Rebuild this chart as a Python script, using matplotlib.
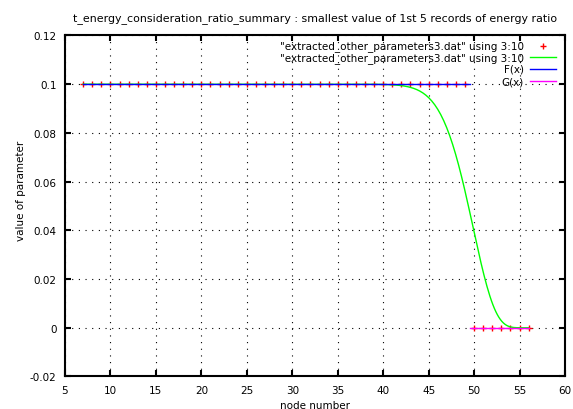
import math
import numpy as np
import matplotlib
matplotlib.use("Agg")
import matplotlib.pyplot as plt

# data: column 3 (node) vs column 10 (ratio)
node = [7, 8, 9, 10, 11, 12, 13, 14, 15, 16, 17, 18, 19, 20, 21, 22, 23, 24, 25,
        26, 27, 28, 29, 30, 31, 32, 33, 34, 35, 36, 37, 38, 39, 40, 41, 42, 43,
        44, 45, 46, 47, 48, 49, 50, 51, 52, 53, 54, 55, 56]
ratio = [0.1, 0.1, 0.1, 0.1, 0.1, 0.1, 0.1, 0.1, 0.1, 0.1, 0.1, 0.1, 0.1, 0.1,
         0.1, 0.1, 0.1, 0.1, 0.1, 0.1, 0.1, 0.1, 0.1, 0.1, 0.1, 0.1, 0.1, 0.1,
         0.1, 0.1, 0.1, 0.1, 0.1, 0.1, 0.1, 0.1, 0.1, 0.1, 0.1, 0.1, 0.1, 0.1,
         0.1, 0, 0, 0, 0, 0, 0, 0]

# piecewise functions F(x) and G(x)
f_x = [7, 49.5]
f_y = [0.1, 0.1]
g_x = [49.5, 56]
g_y = [0, 0]

labels = ['"extracted_other_parameters3.dat" using 3:10',
          '"extracted_other_parameters3.dat" using 3:10',
          "F(x)", "G(x)"]


# gnuplot "smooth bezier" of the data points
def bezier(xs, ys, num=300):
    n = len(xs) - 1
    t = np.linspace(0, 1, num)
    bx = np.zeros(num)
    by = np.zeros(num)
    for i in range(n + 1):
        b = math.comb(n, i) * t ** i * (1 - t) ** (n - i)
        bx += b * xs[i]
        by += b * ys[i]
    return bx, by


bx, by = bezier(node, ratio)

plt.rcParams["font.family"] = "DejaVu Sans"
plt.rcParams["font.size"] = 7.5

fig = plt.figure(figsize=(5.73, 4.10), dpi=100)
ax = fig.add_axes([0.1134, 0.0793, 0.8726, 0.8317])

ax.plot(node, ratio, "+", color="#ff0000", markersize=5, mew=1)
ax.plot(bx, by, color="#00ff00", lw=1)
ax.plot(f_x, f_y, color="#0000ff", lw=1)
ax.plot(g_x, g_y, color="#ff00ff", lw=1)

ax.set_xlim(5, 60)
ax.set_ylim(-0.02, 0.12)
ax.set_xticks(range(5, 61, 5))
ax.set_yticks([-0.02, 0, 0.02, 0.04, 0.06, 0.08, 0.1, 0.12])
ax.set_yticklabels(["-0.02", "0", "0.02", "0.04", "0.06", "0.08", "0.1", "0.12"])
ax.tick_params(direction="in", length=4, width=1.5, top=True, right=True,
               labeltop=False, labelright=False, pad=6)
ax.grid(True, color="black", linestyle=(0, (1, 5)), lw=0.8)
for s in ax.spines.values():
    s.set_linewidth(1.5)

ax.set_title("t_energy_consideration_ratio_summary : smallest value of 1st 5 records of energy ratio",
             fontsize=7.9, pad=11)
ax.set_xlabel("node number")
ax.set_ylabel("value of parameter")
ax.xaxis.set_label_coords(0.5, -0.068)
ax.yaxis.set_label_coords(-0.078, 0.547)

# gnuplot style key: right-aligned text, sample to the right
rows = [0.970, 0.936, 0.902, 0.866]
ax.text(0.918, rows[0], labels[0], transform=ax.transAxes, ha="right", va="center")
ax.plot([0.956], [rows[0]], "+", color="#ff0000", markersize=5, mew=1,
        transform=ax.transAxes, clip_on=False)
for lab, y, c in zip(labels[1:], rows[1:], ["#00ff00", "#0000ff", "#ff00ff"]):
    ax.text(0.918, y, lab, transform=ax.transAxes, ha="right", va="center")
    ax.plot([0.93, 0.982], [y, y], color=c, lw=1, transform=ax.transAxes)

fig.savefig("out.png", dpi=100)
